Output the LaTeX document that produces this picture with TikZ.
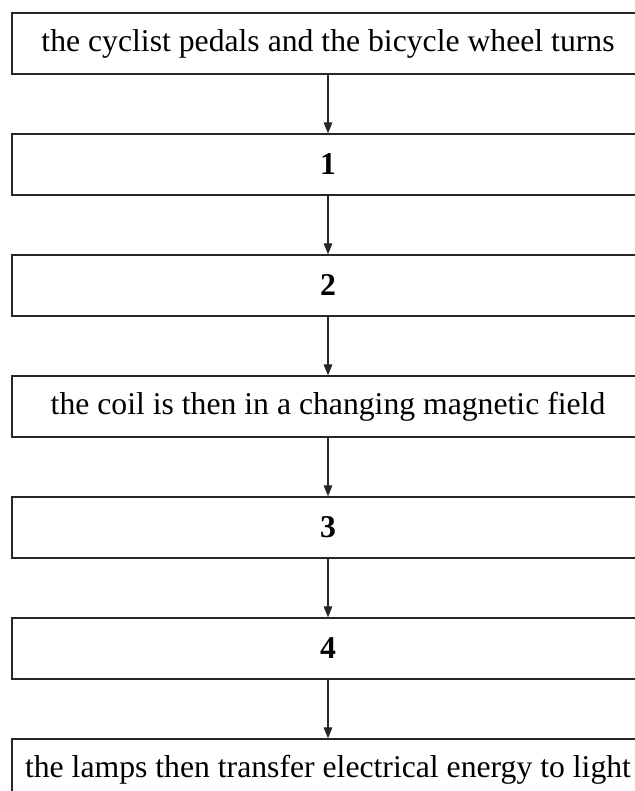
\documentclass[tikz,border=0pt]{standalone}
\usepackage{fontspec}
\setmainfont{Liberation Serif}
\usetikzlibrary{arrows.meta}
\begin{document}
\begin{tikzpicture}[x=1pt,y=1pt,
  stagebox/.style={draw=black!85, line width=1.2pt, rectangle, minimum width=632pt,
    minimum height=61pt, inner sep=0pt, font=\fontsize{31.7}{36}\selectfont},
  flowarrow/.style={draw=black!85, line width=1.2pt, -{Triangle[length=11pt,width=8.5pt]}}]
\useasboundingbox (0,0) rectangle (634,791);
\node[stagebox] (b1) at (328,747.5) {the cyclist pedals and the bicycle wheel turns};
\node[stagebox] (b2) at (328,626.5) {\textbf{1}};
\node[stagebox] (b3) at (328,505.5) {\textbf{2}};
\node[stagebox] (b4) at (328,384.5) {the coil is then in a changing magnetic field};
\node[stagebox] (b5) at (328,263.5) {\textbf{3}};
\node[stagebox] (b6) at (328,142.5) {\textbf{4}};
\node[stagebox] (b7) at (328,21.5) {the lamps then transfer electrical energy to light};
\draw[flowarrow] (b1) -- (b2);
\draw[flowarrow] (b2) -- (b3);
\draw[flowarrow] (b3) -- (b4);
\draw[flowarrow] (b4) -- (b5);
\draw[flowarrow] (b5) -- (b6);
\draw[flowarrow] (b6) -- (b7);
\end{tikzpicture}
\end{document}
